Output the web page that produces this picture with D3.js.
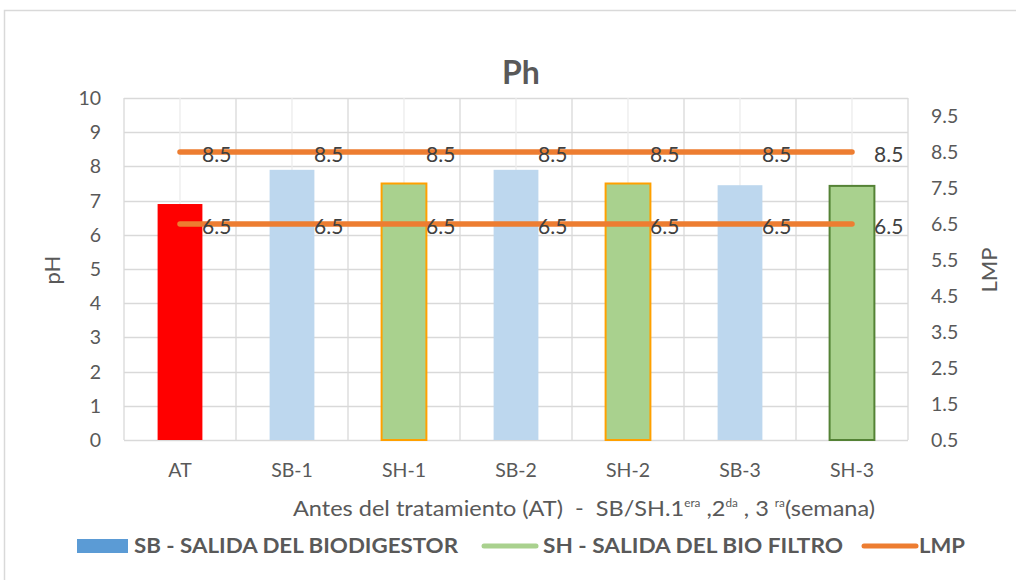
<!DOCTYPE html>
<html>
<head>
<meta charset="utf-8">
<script src="https://cdn.jsdelivr.net/npm/d3@7/dist/d3.min.js"></script>
<style>
  html, body { margin: 0; padding: 0; background: #fff; }
  svg { display: block; font-family: Lato, "Open Sans", sans-serif; }
</style>
</head>
<body>
<svg id="chart" width="1016" height="580"></svg>
<script>
// Sample categories and pH readings
const categories = ["AT", "SB-1", "SH-1", "SB-2", "SH-2", "SB-3", "SH-3"];
const phValues = [6.9, 7.9, 7.5, 7.9, 7.5, 7.45, 7.43];
const barFill = ["#FF0000", "#BDD7EE", "#A9D18E", "#BDD7EE", "#A9D18E", "#BDD7EE", "#A9D18E"];
const barStroke = ["none", "none", "#FFA000", "none", "#FFA000", "none", "#548235"];
// Permissible limits (LMP), plotted on the secondary axis
const lmpUpper = [8.5, 8.5, 8.5, 8.5, 8.5, 8.5, 8.5];
const lmpLower = [6.5, 6.5, 6.5, 6.5, 6.5, 6.5, 6.5];
const leftTicks = [0, 1, 2, 3, 4, 5, 6, 7, 8, 9, 10];
const rightTicks = [0.5, 1.5, 2.5, 3.5, 4.5, 5.5, 6.5, 7.5, 8.5, 9.5];

const svg = d3.select("#chart");
const TEXT = "#595959";
const GRID = "#d9d9d9";
const plot = { left: 124, right: 908, top: 98, bottom: 440 };

// Chart frame
svg.append("path")
  .attr("d", "M4.5,580 L4.5,10.5 L1016,10.5")
  .attr("fill", "none").attr("stroke", GRID).attr("stroke-width", 1.5);

const x = d3.scaleBand().domain(categories).range([plot.left, plot.right]).padding(0);
const yL = d3.scaleLinear().domain([0, 10]).range([plot.bottom, plot.top]);
const yR = d3.scaleLinear().domain([0.5, 10]).range([plot.bottom, plot.top]);
const bw = x.bandwidth();
const barW = bw * 0.4;

// Gridlines
const grid = svg.append("g");
grid.selectAll(".hg").data(leftTicks).join("line")
  .attr("x1", plot.left).attr("x2", plot.right)
  .attr("y1", d => Math.round(yL(d)) + 0.5).attr("y2", d => Math.round(yL(d)) + 0.5)
  .attr("stroke", GRID).attr("stroke-width", 1.3);
grid.selectAll(".vc").data(categories).join("line")
  .attr("x1", d => x(d) + bw / 2).attr("x2", d => x(d) + bw / 2)
  .attr("y1", plot.top).attr("y2", plot.bottom)
  .attr("stroke", "#ececec").attr("stroke-width", 1.3);
grid.selectAll(".vb").data(categories.concat(["__end"])).join("line")
  .attr("x1", (d, i) => plot.left + i * bw).attr("x2", (d, i) => plot.left + i * bw)
  .attr("y1", plot.top).attr("y2", plot.bottom)
  .attr("stroke", GRID).attr("stroke-width", 1.3);

// Bars
svg.append("g").selectAll("rect").data(phValues).join("rect")
  .attr("x", (d, i) => x(categories[i]) + (bw - barW) / 2)
  .attr("y", d => yL(d))
  .attr("width", barW)
  .attr("height", d => plot.bottom - yL(d))
  .attr("fill", (d, i) => barFill[i])
  .attr("stroke", (d, i) => barStroke[i])
  .attr("stroke-width", 2);

// LMP lines with value labels
const line = d3.line().x((d, i) => x(categories[i]) + bw / 2).y(d => yR(d));
[lmpUpper, lmpLower].forEach(series => {
  svg.append("path").datum(series)
    .attr("d", line)
    .attr("fill", "none").attr("stroke", "#ED7D31")
    .attr("stroke-width", 5.5).attr("stroke-linecap", "round");
  svg.append("g").selectAll("text").data(series).join("text")
    .attr("x", (d, i) => x(categories[i]) + bw / 2 + 22)
    .attr("y", d => yR(d) + 10)
    .attr("font-size", 21).attr("fill", "#404040")
    .text(d => d.toFixed(1));
});

// Left axis labels
svg.append("g").selectAll("text").data(leftTicks).join("text")
  .attr("x", 101).attr("y", d => yL(d) + 7)
  .attr("text-anchor", "end").attr("font-size", 19.5).attr("fill", TEXT)
  .text(d => d);

// Right axis labels
svg.append("g").selectAll("text").data(rightTicks).join("text")
  .attr("x", 931).attr("y", d => yR(d) + 7)
  .attr("font-size", 19.5).attr("fill", TEXT)
  .text(d => d.toFixed(1));

// Category labels
svg.append("g").selectAll("text").data(categories).join("text")
  .attr("x", d => x(d) + bw / 2).attr("y", 477)
  .attr("text-anchor", "middle").attr("font-size", 19.5).attr("fill", TEXT)
  .text(d => d);

// Title
svg.append("text").attr("x", 521).attr("y", 84)
  .attr("text-anchor", "middle").attr("font-size", 32).attr("font-weight", "bold")
  .attr("fill", TEXT).text("Ph");

// Axis titles
svg.append("text").attr("transform", "translate(60,270) rotate(-90)")
  .attr("text-anchor", "middle").attr("font-size", 22).attr("fill", TEXT).text("pH");
svg.append("text").attr("transform", "translate(997,270) rotate(-90)")
  .attr("text-anchor", "middle").attr("font-size", 22).attr("fill", TEXT).text("LMP");

const xt = svg.append("text").attr("x", 293).attr("y", 516)
  .attr("font-size", 22).attr("fill", TEXT)
  .style("white-space", "pre")
  .attr("textLength", 582).attr("lengthAdjust", "spacingAndGlyphs");
xt.append("tspan").text("Antes del tratamiento (AT)  -  SB/SH.1");
xt.append("tspan").attr("dy", -9).attr("font-size", 11).text("era");
xt.append("tspan").attr("dy", 9).text(" ,2");
xt.append("tspan").attr("dy", -9).attr("font-size", 11).text("da");
xt.append("tspan").attr("dy", 9).text(" , 3 ");
xt.append("tspan").attr("dy", -9).attr("font-size", 11).text("ra");
xt.append("tspan").attr("dy", 9).text("(semana)");

// Legend
const legend = svg.append("g").attr("font-weight", "bold").attr("font-size", 20).attr("fill", TEXT);
legend.append("rect").attr("x", 77).attr("y", 539).attr("width", 51).attr("height", 14).attr("fill", "#5B9BD5");
legend.append("text").attr("x", 134).attr("y", 553).attr("textLength", 324).attr("lengthAdjust", "spacingAndGlyphs")
  .text("SB - SALIDA DEL BIODIGESTOR");
legend.append("line").attr("x1", 484).attr("x2", 536).attr("y1", 546).attr("y2", 546)
  .attr("stroke", "#A9D18E").attr("stroke-width", 5).attr("stroke-linecap", "round");
legend.append("text").attr("x", 543).attr("y", 553).attr("textLength", 300).attr("lengthAdjust", "spacingAndGlyphs")
  .text("SH - SALIDA DEL BIO FILTRO");
legend.append("line").attr("x1", 864).attr("x2", 916).attr("y1", 546).attr("y2", 546)
  .attr("stroke", "#ED7D31").attr("stroke-width", 5).attr("stroke-linecap", "round");
legend.append("text").attr("x", 919).attr("y", 553).attr("textLength", 46).attr("lengthAdjust", "spacingAndGlyphs")
  .text("LMP");
</script>
</body>
</html>
